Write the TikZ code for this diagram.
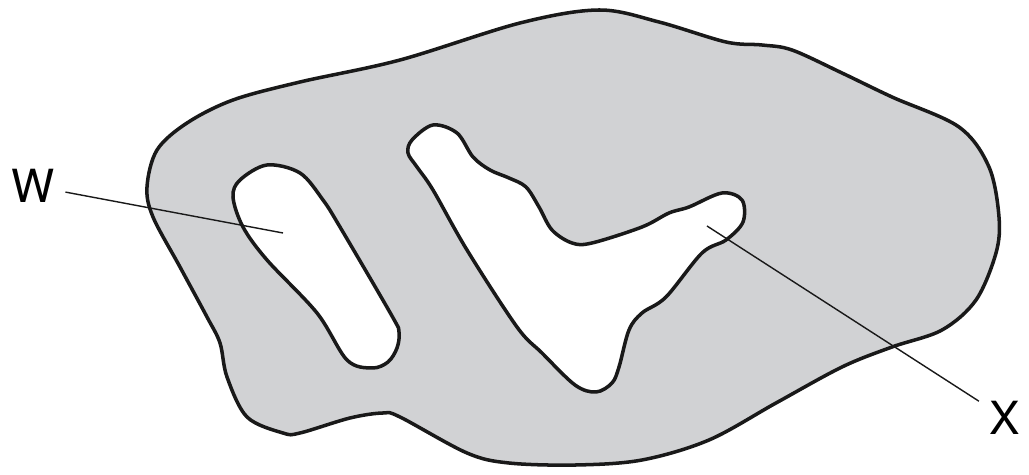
\documentclass[tikz,border=0pt]{standalone}
\usepackage{fontspec}
\setsansfont{TeX Gyre Heros}
\usetikzlibrary{positioning}
\definecolor{slab}{RGB}{209,210,212}

\begin{document}
\begin{tikzpicture}[x=0.02cm, y=-0.02cm,
    outline/.style={line width=2pt, draw=black!90, line join=round},
    leader/.style={line width=0.8pt, black!90},
    tag/.style={font=\sffamily\fontsize{26}{26}\selectfont, inner sep=6pt}]
    \useasboundingbox (0,0) rectangle (1029,475);

    % Body with the two holes
    \filldraw[outline, fill=slab, even odd rule]
        plot[smooth cycle, tension=0.55] coordinates {
            (147,187) (157,150) (187,123) (233,100) (300,82) (400,60) (520,23)
            (599,10) (659,22) (726,42) (762,45) (792,50) (842,73) (892,97)
            (959,127) (989,167) (999,217) (996,253) (976,300) (942,330)
            (892,347) (842,367) (776,403) (709,440) (642,460) (576,465)
            (509,463) (467,453) (400,417) (383,413) (350,418) (300,433)
            (283,433) (247,417) (227,377) (220,343) (207,317) (180,267)
            (153,217)}
        plot[smooth cycle, tension=0.55] coordinates {
            (267,165) (240,180) (233,197) (243,227) (267,260) (317,313)
            (347,360) (372,368) (388,362) (397,348) (399,332) (392,316)
            (340,227) (323,200) (300,173)}
        plot[smooth cycle, tension=0.55] coordinates {
            (433,125) (412,140) (408,153) (417,167) (433,190) (467,250)
            (517,327) (542,353) (575,385) (596,392) (612,383) (619,367)
            (629,330) (642,313) (666,297) (702,253) (726,240) (743,222)
            (742,200) (722,193) (689,207) (669,213) (642,227) (592,243)
            (572,243) (552,230) (539,207) (526,187) (509,178) (490,170)
            (473,157) (457,133)};

    % Labels
    \node[tag] (w) at (33,186) {W};
    \node[tag] (x) at (1005,418) {X};
    \coordinate (wtip) at (283,233);
    \coordinate (xtip) at (707,226);
    \draw[leader] (w) -- (wtip);
    \draw[leader] (x) -- (xtip);
\end{tikzpicture}
\end{document}
